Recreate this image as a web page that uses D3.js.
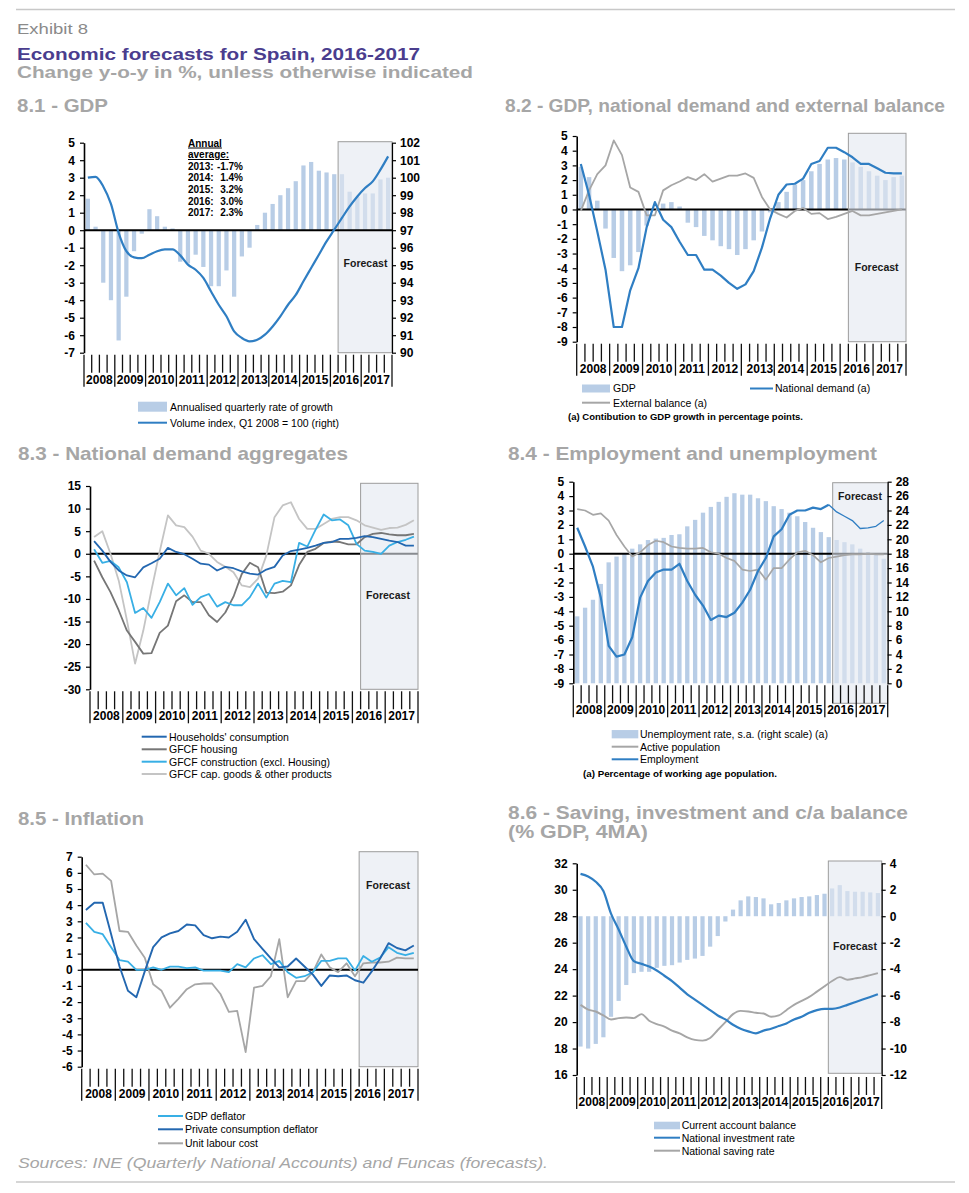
<!DOCTYPE html>
<html><head><meta charset="utf-8">
<script src="https://cdn.jsdelivr.net/npm/d3@7"></script>
<style>
body{margin:0;background:#fff}
svg{display:block}
text{font-family:"Liberation Sans",Arial,Helvetica,sans-serif}
</style>
</head><body>
<svg id="c" width="969" height="1193"></svg>
<script>
// ---------------- DATA ----------------
const years = ["2008","2009","2010","2011","2012","2013","2014","2015","2016","2017"];
const quarterNames = ["Q1","Q2","Q3","Q4"];
const quarters = years.flatMap(y => quarterNames.map(q => y + q));
const firstForecastQuarter = "2016Q2";

// 8.1 GDP
const gdpAnnualisedQoQ = [1.8,0.2,-3.0,-4.0, -6.3,-3.8,-1.2,-0.2, 1.2,0.8,0.2,0.1, -1.8,-1.9,-1.4,-2.1, -3.2,-3.2,-2.3,-3.8, -1.5,-1.0,0.3,1.0, 1.5,2.0,2.4,2.8, 3.7,3.9,3.4,3.3, 3.2,3.2,2.2,1.9, 2.1,2.1,2.9,3.0];
const gdpVolumeIndex = [100.0,100.05,99.5,98.5, 96.85,95.8,95.45,95.4, 95.6,95.8,95.9,95.9, 95.56,95.03,94.74,94.27, 93.5,92.74,92.08,91.22, 90.84,90.65,90.74,91.03, 91.5,92.08,92.74,93.3, 94.08,94.84,95.6,96.36, 97.03,97.7,98.36,98.93, 99.41,99.79,100.46,101.22];
const annualAverageYears = ["2013:","2014:","2015:","2016:","2017:"];
const annualAverageValues = ["-1.7%","1.4%","3.2%","3.0%","2.3%"];
const ticks81Left = [-7,-6,-5,-4,-3,-2,-1,0,1,2,3,4,5];
const ticks81Right = [90,91,92,93,94,95,96,97,98,99,100,101,102];

// 8.2 GDP, national demand and external balance
const gdpYoY = [2.9,2.2,0.6,-1.3, -3.3,-4.2,-3.8,-2.9, -1.1,0.0,0.4,0.5, 0.2,-0.9,-1.2,-1.8, -2.1,-2.5,-2.7,-3.1, -2.7,-2.1,-1.5,-0.2, 0.5,1.2,1.7,2.0, 2.6,3.1,3.4,3.5, 3.4,3.2,2.9,2.6, 2.3,2.0,2.2,2.3];
const nationalDemand = [3.1,1.0,-1.5,-4.1, -8.0,-8.0,-5.5,-4.0, -1.2,0.5,-0.7,-1.2, -2.2,-3.1,-3.1,-4.1, -4.1,-4.5,-5.0,-5.4, -5.1,-4.2,-2.6,-0.6, 1.0,1.7,1.75,2.1, 3.1,3.3,4.2,4.2, 3.9,3.55,3.1,3.1, 2.8,2.5,2.45,2.45];
const externalBalance = [-0.1,1.3,2.4,3.0, 4.7,3.7,1.5,1.2, -0.4,-0.4,1.3,1.65, 1.9,2.2,2.0,2.4, 1.9,2.1,2.3,2.3, 2.45,2.15,0.85,0.0, -0.3,-0.55,-0.1,0.1, -0.3,-0.25,-0.65,-0.5, -0.3,-0.1,-0.4,-0.4, -0.3,-0.2,-0.1,0.0];
const ticks82Left = [-9,-8,-7,-6,-5,-4,-3,-2,-1,0,1,2,3,4,5];

// 8.3 National demand aggregates
const householdsConsumption = [2.8,0.7,-1.8,-3.7, -4.8,-5.2,-3.0,-2.1, -1.1,1.3,0.4,-0.1, -1.1,-2.2,-2.4,-3.7, -2.9,-3.2,-3.9,-4.4, -4.6,-3.5,-2.9,-0.4, 0.6,0.9,1.3,1.8, 2.4,2.6,3.3,3.3, 3.5,3.9,3.7,3.3, 2.9,2.6,1.8,1.8];
const gfcfHousing = [-1.5,-5.2,-8.5,-12.5, -17.0,-19.5,-22.1,-22.0, -17.5,-15.9,-10.5,-9.2, -10.7,-10.7,-13.6,-15.1, -13.0,-9.5,-4.5,-2.0, -3.0,-8.6,-8.7,-8.4, -7.0,-2.5,0.4,1.1, 2.4,2.7,2.6,2.1, 2.1,3.7,4.4,4.6, 4.3,4.1,4.1,4.4];
const gfcfConstruction = [1.0,-2.0,-1.6,-3.0, -6.3,-13.1,-12.0,-14.2, -10.7,-6.6,-9.2,-7.6, -11.3,-9.6,-8.9,-11.7, -10.7,-11.4,-11.4,-9.6, -6.6,-9.7,-6.6,-6.0, -6.3,2.4,1.6,5.3, 8.7,7.4,7.6,6.3, 2.2,0.7,0.4,0.0, 1.8,2.6,3.1,3.8];
const gfcfCapGoods = [3.7,5.0,0.0,-5.9, -14.7,-24.3,-17.0,-8.0, 0.5,8.5,6.3,5.9, 3.8,0.7,0.0,-1.8, -2.9,-4.1,-7.0,-7.4, -5.5,-0.4,8.1,10.7, 11.4,7.7,5.5,5.5, 6.6,7.7,8.1,8.1, 7.4,6.3,5.8,5.3, 5.7,5.8,6.4,7.4];
const ticks83Left = [-30,-25,-20,-15,-10,-5,0,5,10,15];

// 8.4 Employment and unemployment
const unemploymentRate = [9.3,10.5,11.6,13.8, 16.8,17.6,18.1,18.7, 19.3,19.9,20.1,20.2, 20.6,20.7,21.8,22.7, 23.7,24.5,25.2,25.9, 26.4,26.2,26.2,25.7, 25.3,24.6,24.2,23.7, 23.2,22.4,21.6,21.0, 20.3,19.9,19.6,19.3, 18.7,18.2,17.9,17.3];
const activePopulation = [3.1,3.0,2.7,2.8, 2.3,1.3,0.5,-0.2, 0.1,0.6,0.9,0.8, 0.5,0.4,0.35,0.35, 0.4,0.1,0.0,-0.3, -0.5,-1.1,-1.2,-1.1, -1.8,-1.0,-1.0,-0.4, 0.1,0.2,-0.1,-0.6, -0.3,-0.2,-0.1,-0.05, -0.05,0.0,-0.05,-0.05];
const employment = [1.8,0.5,-0.9,-3.05, -6.4,-7.15,-7.0,-5.8, -3.05,-1.9,-1.3,-1.1, -1.1,-0.7,-1.9,-2.85, -3.6,-4.6,-4.3,-4.4, -4.1,-3.4,-2.5,-1.2, -0.3,1.2,1.7,2.7, 3.0,3.0,3.2,3.1, 3.4,2.9,2.6,2.3, 1.75,1.8,1.9,2.3];
const ticks84Left = [-9,-8,-7,-6,-5,-4,-3,-2,-1,0,1,2,3,4,5];
const ticks84Right = [0,2,4,6,8,10,12,14,16,18,20,22,24,26,28];

// 8.5 Inflation
const gdpDeflator = [2.9,2.35,2.2,1.4, 0.6,0.5,0.0,0.0, 0.15,0.0,0.2,0.2, 0.1,0.15,-0.05,-0.05, -0.05,-0.15,0.35,0.15, 0.7,0.9,0.35,0.55, -0.15,-0.5,-0.4,-0.15, 0.55,0.55,0.7,0.7, -0.05,0.85,0.5,0.75, 1.4,1.05,0.9,1.05];
const privateConsumptionDeflator = [3.7,4.15,4.15,2.2, 0.2,-1.3,-1.7,-0.1, 1.4,2.0,2.25,2.4, 2.8,2.75,2.15,1.95, 2.05,2.0,2.35,3.1, 1.9,1.3,0.7,0.15, 0.2,0.7,0.2,-0.3, -1.0,-0.35,-0.4,-0.35, -0.65,-0.8,-0.1,0.7, 1.65,1.35,1.2,1.5];
const unitLabourCost = [6.5,5.9,5.95,5.5, 2.4,2.35,1.5,0.75, -0.9,-1.3,-2.35,-1.8, -1.2,-0.9,-0.85,-0.85, -1.5,-2.6,-2.55,-5.1, -1.1,-1.0,-0.4,1.9, -1.7,-0.7,-0.7,-0.15, 0.95,0.15,-0.15,0.4, -0.4,0.4,0.45,0.45, 0.5,0.75,0.7,0.7];
const ticks85Left = [-6,-5,-4,-3,-2,-1,0,1,2,3,4,5,6,7];

// 8.6 Saving, investment and c/a balance
const currentAccountBalance = [-9.85,-10.0,-9.65,-9.15, -7.6,-6.4,-5.2,-4.3, -4.2,-4.2,-3.9,-3.75, -3.7,-3.5,-3.3,-3.2, -3.0,-2.3,-1.5,-0.4, 0.5,1.2,1.5,1.45, 1.35,0.9,1.0,1.2, 1.35,1.45,1.5,1.6, 1.7,2.1,2.35,1.9, 1.85,1.85,1.8,1.75];
const nationalInvestmentRate = [31.2,31.0,30.6,29.9, 28.2,27.0,25.7,24.6, 24.4,24.2,23.9,23.5, 23.1,22.6,22.1,21.7, 21.3,20.9,20.5,20.2, 19.8,19.5,19.3,19.15, 19.35,19.5,19.7,19.9, 20.2,20.4,20.7,20.9, 21.0,21.0,21.1,21.3, 21.5,21.7,21.9,22.1];
const nationalSavingRate = [21.3,20.95,20.8,20.5, 20.2,20.3,20.35,20.3, 20.6,20.1,19.85,19.65, 19.35,19.15,18.85,18.65, 18.6,18.8,19.4,20.0, 20.6,20.85,20.8,20.7, 20.65,20.4,20.5,20.9, 21.3,21.6,21.9,22.3, 22.7,23.1,23.4,23.2, 23.3,23.4,23.55,23.7];
const ticks86Left = [16,18,20,22,24,26,28,30,32];
const ticks86Right = [-12,-10,-8,-6,-4,-2,0,2,4];

// ---------------- STYLE ----------------
const C = {
  bar:"#b8cde6", blue:"#2f7ec3", hhBlue:"#2367b0", lightBlue:"#38afe5",
  darkGray:"#767676", gray:"#a6a6a6", lightGray:"#c4c4c4",
  boxFill:"#e3e8f0", boxStroke:"#9c9c9c"
};
const svg = d3.select("#c");

function text(x, y, s, o = {}) {
  const t = svg.append("text").attr("x", x).attr("y", y).text(s)
    .attr("font-size", o.size || 10.5).attr("fill", o.fill || "#000")
    .attr("font-weight", o.weight || "normal")
    .attr("text-anchor", o.anchor || "start");
  if (o.len) t.attr("textLength", o.len).attr("lengthAdjust", "spacingAndGlyphs");
  if (o.style) t.attr("font-style", o.style);
  if (o.deco) t.attr("text-decoration", o.deco);
  return t;
}

// ---------------- HEADER ----------------
svg.append("line").attr("x1",16).attr("x2",955).attr("y1",9.5).attr("y2",9.5).attr("stroke","#c8c8c8").attr("stroke-width",1.6);
svg.append("line").attr("x1",16).attr("x2",955).attr("y1",1182).attr("y2",1182).attr("stroke","#c8c8c8").attr("stroke-width",1.6);
text(17, 33.5, "Exhibit 8", {size:15, fill:"#8a8a8a", len:71});
text(17, 59.5, "Economic forecasts for Spain, 2016-2017", {size:16.5, weight:"bold", fill:"#4a3d8e", len:403});
text(17, 78.3, "Change y-o-y in %, unless otherwise indicated", {size:16.5, weight:"bold", fill:"#a6a6a6", len:456});
const gTitle = {size:18.5, weight:"bold", fill:"#a6a6a6"};
text(17, 111.5, "8.1 - GDP", {...gTitle, len:91});
text(505, 111.5, "8.2 - GDP, national demand and external balance", {...gTitle, len:440});
text(18, 460, "8.3 - National demand aggregates", {...gTitle, len:330});
text(508, 460, "8.4 - Employment and unemployment", {...gTitle, len:369});
text(18, 825, "8.5 - Inflation", {...gTitle, len:126});
text(508, 819, "8.6 - Saving, investment and c/a balance", {...gTitle, len:400});
text(508, 838, "(% GDP, 4MA)", {...gTitle, len:140});
text(18, 1168, "Sources: INE (Quarterly National Accounts) and Funcas (forecasts).", {size:15, style:"italic", fill:"#a6a6a6", len:530});

// ---------------- PANELS ----------------
function drawPanel(p) {
  const x = d3.scaleBand().domain(quarters).range([p.left, p.right]).paddingInner(0.45).paddingOuter(0.225);
  const step = x.step();
  const bx = k => p.left + k * step;
  const cx = q => x(q) + x.bandwidth() / 2;
  const y = d3.scaleLinear().domain(p.yDomain).range([p.bottom, p.top]);
  const y2 = p.y2Domain ? d3.scaleLinear().domain(p.y2Domain).range([p.bottom, p.top]) : null;
  const sc = a => a === "y2" ? y2 : y;
  const k0 = quarters.indexOf(firstForecastQuarter);
  const g = svg.append("g");

  const drawBox = (op) => g.append("rect")
    .attr("x", bx(k0)).attr("y", p.box.top)
    .attr("width", p.right - bx(k0)).attr("height", p.box.bottom - p.box.top)
    .attr("fill", C.boxFill).attr("fill-opacity", op)
    .attr("stroke", C.boxStroke).attr("stroke-width", 1);

  if (!p.boxOver) drawBox(1);

  if (p.bars) {
    const s = sc(p.bars.axis);
    g.append("g").selectAll("rect").data(p.bars.values).join("rect")
      .attr("x", (d, i) => x(quarters[i]))
      .attr("width", x.bandwidth())
      .attr("y", d => Math.min(s(0), s(d)))
      .attr("height", d => Math.abs(s(d) - s(0)))
      .attr("fill", C.bar);
  }
  if (p.zeroLine && !p.zeroOverBox) {
    g.append("line").attr("x1", p.left).attr("x2", p.right).attr("y1", y(0)).attr("y2", y(0))
      .attr("stroke", "#000").attr("stroke-width", 2);
  }
  if (p.boxOver) drawBox(0.6);
  if (p.zeroLine && p.zeroOverBox) {
    g.append("line").attr("x1", p.left).attr("x2", p.right).attr("y1", y(0)).attr("y2", y(0))
      .attr("stroke", "#000").attr("stroke-width", 2);
  }

  // lines
  p.lines.forEach(L => {
    const s = sc(L.axis);
    const gen = d3.line().x((d, i) => cx(quarters[i])).y(d => s(d));
    if (L.smooth) gen.curve(d3.curveMonotoneX);
    if (L.thinFrom != null) {
      const pts = L.values.map((v, i) => [cx(quarters[i]), s(v)]);
      const gen2 = d3.line().x(d => d[0]).y(d => d[1]);
      g.append("path").attr("d", gen2(pts.slice(0, L.thinFrom + 1))).attr("fill", "none")
        .attr("stroke", L.color).attr("stroke-width", L.width).attr("stroke-linejoin", "round");
      g.append("path").attr("d", gen2(pts.slice(L.thinFrom))).attr("fill", "none")
        .attr("stroke", L.color).attr("stroke-width", 1.3).attr("stroke-linejoin", "round");
    } else {
      g.append("path").attr("d", gen(L.values)).attr("fill", "none")
        .attr("stroke", L.color).attr("stroke-width", L.width).attr("stroke-linejoin", "round");
    }
  });

  // left axis
  const ax = g.append("g").attr("transform", `translate(${p.left},0)`)
    .call(d3.axisLeft(y).tickValues(p.yTicks).tickSize(4).tickSizeOuter(0).tickPadding(5).tickFormat(d => String(d)));
  ax.select(".domain").attr("stroke", "#000").attr("stroke-width", 1.6);
  ax.selectAll(".tick line").attr("stroke", "#000").attr("stroke-width", 1.2);
  ax.selectAll("text").attr("font-size", 12).attr("font-weight", "bold").attr("fill", "#000")
    .attr("font-family", '"Liberation Sans",Arial,sans-serif');
  if (y2) {
    const ax2 = g.append("g").attr("transform", `translate(${p.right},0)`)
      .call(d3.axisRight(y2).tickValues(p.y2Ticks).tickSize(4).tickSizeOuter(0).tickPadding(4).tickFormat(d => String(d)));
    ax2.select(".domain").attr("stroke", "#000").attr("stroke-width", 1.2);
    ax2.selectAll(".tick line").attr("stroke", "#000").attr("stroke-width", 1.2);
    ax2.selectAll("text").attr("font-size", 12).attr("font-weight", "bold").attr("fill", "#000")
      .attr("font-family", '"Liberation Sans",Arial,sans-serif');
  }

  // category axis: ticks at boundaries, year separators
  const kx = d3.range(0, quarters.length + 1);
  g.append("g").selectAll("line").data(kx).join("line")
    .attr("x1", k => bx(k)).attr("x2", k => bx(k))
    .attr("y1", p.bottom + 2).attr("y2", k => p.bottom + (k % 4 === 0 ? 34 : 20))
    .attr("stroke", "#111").attr("stroke-width", 1.3);
  years.forEach((yr, j) => {
    let xx = (bx(4 * j) + bx(4 * j + 4)) / 2, anchor = "middle";
    if (yr === "2013" && p.shift2013) { xx = bx(4 * j + 4) - 1; anchor = "end"; }
    text(xx, p.bottom + 31, yr, {size: 12, weight: "bold", anchor});
  });

  text(p.forecast.x, p.forecast.y, "Forecast", {size: 10.5, weight: "bold", anchor: "middle", fill: "#1a1a1a"});

  // legend
  p.legend.forEach(it => {
    if (it.kind === "rect") {
      g.append("rect").attr("x", it.x).attr("y", it.y - it.h / 2).attr("width", it.w).attr("height", it.h).attr("fill", C.bar);
    } else {
      g.append("line").attr("x1", it.x).attr("x2", it.x + it.w).attr("y1", it.y).attr("y2", it.y)
        .attr("stroke", it.color).attr("stroke-width", 2);
    }
    text(it.lx, it.y + 3.8, it.label, {size: 10.5, fill: "#000"});
  });
  if (p.note) text(p.note.x, p.note.y, p.note.label, {size: 9, weight: "bold", len: p.note.len});
  return {x, y, y2, bx};
}

// 8.1
drawPanel({
  left:84, right:392, top:142.7, bottom:352.7,
  yDomain:[-7,5], yTicks:ticks81Left, y2Domain:[90,102], y2Ticks:ticks81Right,
  bars:{values:gdpAnnualisedQoQ, axis:"y"},
  lines:[{values:gdpVolumeIndex, axis:"y2", color:C.blue, width:2.2, smooth:true}],
  zeroLine:true, zeroOverBox:true, boxOver:true,
  box:{top:141.7, bottom:352.7}, forecast:{x:365.5, y:266.5}, shift2013:true,
  legend:[
    {kind:"rect", x:138, y:406.7, w:29, h:10, lx:170, label:"Annualised quarterly rate of growth"},
    {kind:"line", x:138, y:422.7, w:29, color:C.blue, lx:170, label:"Volume index, Q1 2008 = 100 (right)"}
  ]
});
// annual average annotation
text(188, 146.5, "Annual", {size:10, weight:"bold", deco:"underline"});
text(188, 158, "average:", {size:10, weight:"bold", deco:"underline"});
annualAverageYears.forEach((yy, i) => {
  text(188, 169.5 + i * 11.7, yy, {size:10, weight:"bold"});
  text(243, 169.5 + i * 11.7, annualAverageValues[i], {size:10, weight:"bold", anchor:"end"});
});

// 8.2
drawPanel({
  left:576.7, right:906, top:136, bottom:341.7,
  yDomain:[-9,5], yTicks:ticks82Left,
  bars:{values:gdpYoY, axis:"y"},
  lines:[
    {values:externalBalance, axis:"y", color:C.gray, width:1.8},
    {values:nationalDemand, axis:"y", color:C.blue, width:2.2}
  ],
  zeroLine:true, zeroOverBox:false, boxOver:true,
  box:{top:133.3, bottom:341.7}, forecast:{x:876.7, y:270.5}, shift2013:true,
  legend:[
    {kind:"rect", x:582, y:388.5, w:28, h:8, lx:613, label:"GDP"},
    {kind:"line", x:750, y:388.5, w:23, color:C.blue, lx:775, label:"National demand (a)"},
    {kind:"line", x:582, y:402.7, w:28, color:C.gray, lx:613, label:"External balance (a)"}
  ],
  note:{x:568, y:419.5, label:"(a) Contibution to GDP growth in percentage points.", len:235}
});

// 8.3
drawPanel({
  left:90, right:418, top:486, bottom:689.3,
  yDomain:[-30,15], yTicks:ticks83Left,
  lines:[
    {values:gfcfCapGoods, axis:"y", color:C.lightGray, width:1.8},
    {values:gfcfHousing, axis:"y", color:C.darkGray, width:1.8},
    {values:gfcfConstruction, axis:"y", color:C.lightBlue, width:1.8},
    {values:householdsConsumption, axis:"y", color:C.hhBlue, width:1.8}
  ],
  zeroLine:true, zeroOverBox:false, boxOver:true,
  box:{top:483.3, bottom:689.3}, forecast:{x:388, y:598.5}, shift2013:false,
  legend:[
    {kind:"line", x:141.7, y:736.7, w:25, color:C.hhBlue, lx:169, label:"Households' consumption"},
    {kind:"line", x:141.7, y:749.3, w:25, color:C.darkGray, lx:169, label:"GFCF housing"},
    {kind:"line", x:141.7, y:761.7, w:25, color:C.lightBlue, lx:169, label:"GFCF construction (excl. Housing)"},
    {kind:"line", x:141.7, y:774, w:25, color:C.lightGray, lx:169, label:"GFCF cap. goods & other products"}
  ]
});

// 8.4
drawPanel({
  left:573.3, right:887.7, top:481.7, bottom:683.3,
  yDomain:[-9,5], yTicks:ticks84Left, y2Domain:[0,28], y2Ticks:ticks84Right,
  bars:{values:unemploymentRate, axis:"y2"},
  lines:[
    {values:activePopulation, axis:"y", color:C.gray, width:1.7},
    {values:employment, axis:"y", color:C.blue, width:2.2, thinFrom:32}
  ],
  zeroLine:true, zeroOverBox:false, boxOver:true,
  box:{top:482.7, bottom:703.3}, forecast:{x:860, y:499.5}, shift2013:true,
  legend:[
    {kind:"rect", x:611.7, y:734.2, w:26.6, h:8.3, lx:640, label:"Unemployment rate, s.a. (right scale) (a)"},
    {kind:"line", x:611.7, y:746.7, w:26.6, color:C.gray, lx:640, label:"Active population"},
    {kind:"line", x:611.7, y:759.3, w:26.6, color:C.blue, lx:640, label:"Employment"}
  ],
  note:{x:583, y:776.5, label:"(a) Percentage of working age population.", len:194}
});

// 8.5
drawPanel({
  left:81.7, right:418, top:856.7, bottom:1066.7,
  yDomain:[-6,7], yTicks:ticks85Left,
  lines:[
    {values:unitLabourCost, axis:"y", color:C.gray, width:1.8},
    {values:gdpDeflator, axis:"y", color:C.lightBlue, width:1.8},
    {values:privateConsumptionDeflator, axis:"y", color:C.hhBlue, width:1.9}
  ],
  zeroLine:true, zeroOverBox:true, boxOver:true,
  box:{top:851.7, bottom:1066.7}, forecast:{x:388, y:888.5}, shift2013:true,
  legend:[
    {kind:"line", x:158, y:1116, w:25, color:C.lightBlue, lx:185, label:"GDP deflator"},
    {kind:"line", x:158, y:1129.3, w:25, color:C.hhBlue, lx:185, label:"Private consumption deflator"},
    {kind:"line", x:158, y:1143.3, w:25, color:C.gray, lx:185, label:"Unit labour cost"}
  ]
});

// 8.6
drawPanel({
  left:576.7, right:881.7, top:863.3, bottom:1075,
  yDomain:[16,32], yTicks:ticks86Left, y2Domain:[-12,4], y2Ticks:ticks86Right,
  bars:{values:currentAccountBalance, axis:"y2"},
  lines:[
    {values:nationalSavingRate, axis:"y", color:C.gray, width:1.9, smooth:true},
    {values:nationalInvestmentRate, axis:"y", color:C.blue, width:2.2, smooth:true}
  ],
  zeroLine:false, boxOver:true,
  box:{top:861, bottom:1073.3}, forecast:{x:855, y:949.5}, shift2013:true,
  legend:[
    {kind:"rect", x:654, y:1125.5, w:26, h:7.6, lx:681.7, label:"Current account balance"},
    {kind:"line", x:654, y:1137.7, w:26, color:C.blue, lx:681.7, label:"National investment rate"},
    {kind:"line", x:654, y:1150.7, w:26, color:C.gray, lx:681.7, label:"National saving rate"}
  ]
});
</script>
</body></html>
